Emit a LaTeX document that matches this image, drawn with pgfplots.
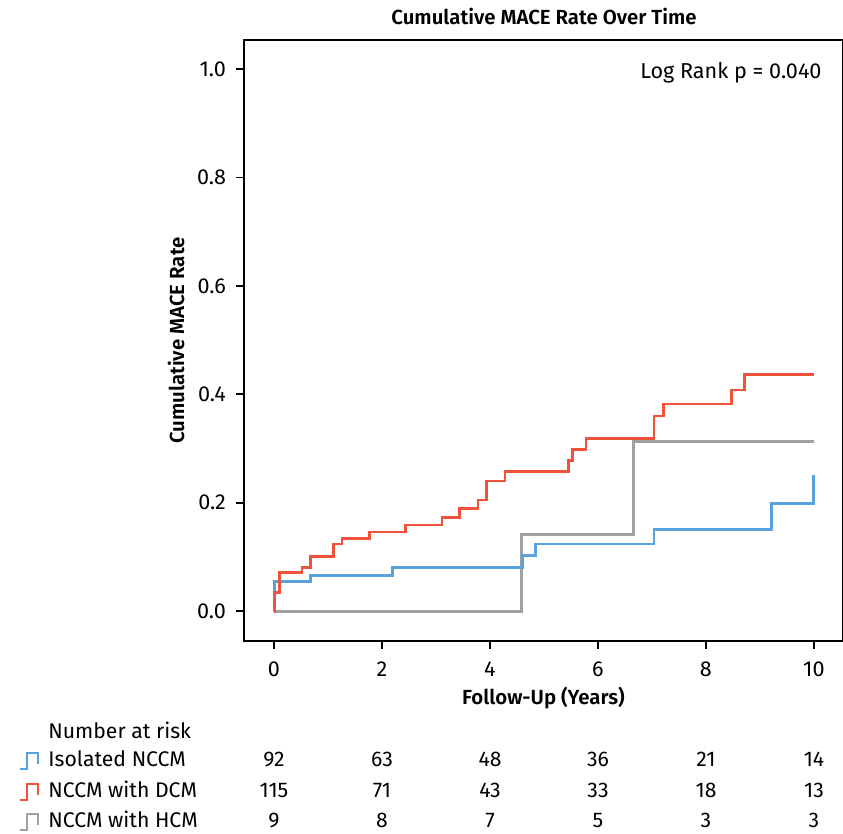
\documentclass[border=0pt]{standalone}
\usepackage{pgfplots}
\pgfplotsset{compat=1.18}
\usepackage{fontspec}
\setmainfont{Fira Sans}
\newfontfamily\semib{Fira Sans SemiBold}
\definecolor{kmred}{RGB}{240,83,60}
\definecolor{kmblue}{RGB}{90,162,222}
\definecolor{kmgray}{RGB}{160,160,160}
\begin{document}
\begin{tikzpicture}
\useasboundingbox (0,0) rectangle (421.5pt,417pt);
\begin{axis}[
  at={(122pt,96.5pt)}, anchor=south west,
  scale only axis, width=299.5pt, height=300.5pt,
  xmin=-0.556, xmax=10.54, ymin=-0.055, ymax=1.0535,
  xtick={0,2,4,6,8,10}, ytick={0,0.2,0.4,0.6,0.8,1.0},
  yticklabel style={xshift=-1.5pt,/pgf/number format/.cd,fixed,fixed zerofill,precision=1},
  /pgf/number format/assume math mode=true,
  tick align=outside, tick pos=left, major tick length=4pt,
  axis line style={line width=0.9pt},
  every tick/.style={line width=0.9pt, black},
  ticklabel style={font=\fontsize{10.8}{12}\selectfont},
  xticklabel style={yshift=-3pt},
  clip=false,
  xlabel={\semib Follow-Up (Years)},
  xlabel style={font=\fontsize{10.2}{12}\selectfont, at={(axis description cs:0.5,-0.095)}, anchor=center},
  ylabel={\semib Cumulative MACE Rate},
  ylabel style={font=\fontsize{10.2}{12}\selectfont, at={(axis description cs:-0.1135,0.5)}, anchor=center},
  every axis plot/.append style={line width=1.4pt},
]
% NCCM with HCM
\addplot[const plot, kmgray] coordinates {
 (0,0) (4.58,0.142) (6.66,0.313) (10,0.313)};
% Isolated NCCM
\addplot[const plot, kmblue] coordinates {
 (0,0) (0.01,0.054) (0.67,0.066) (2.19,0.081) (4.60,0.102) (4.85,0.124)
 (7.04,0.151) (9.22,0.199) (10,0.199) (10,0.251)};
% NCCM with DCM
\addplot[const plot, kmred] coordinates {
 (0,0) (0.01,0.034) (0.10,0.071) (0.52,0.080) (0.67,0.101) (1.10,0.124)
 (1.26,0.134) (1.77,0.146) (2.43,0.159) (3.11,0.173) (3.44,0.189)
 (3.78,0.205) (3.94,0.240) (4.28,0.258) (5.45,0.278) (5.53,0.298)
 (5.78,0.319) (7.04,0.360) (7.21,0.382) (8.47,0.408) (8.71,0.436) (10,0.436)};
\node[anchor=east, inner sep=0pt, font=\fontsize{10.8}{12}\selectfont] at (axis cs:10.15,0.994) {Log Rank p = 0.040};
\end{axis}
\begin{scope}[x=0.5pt,y=0.5pt]
\tikzset{lab/.style={anchor=mid west, font=\fontsize{10.6}{12}\selectfont, inner sep=0pt},
         num/.style={anchor=mid, font=\fontsize{10.6}{12}\selectfont, inner sep=0pt}}
\node[anchor=center, inner sep=0pt, font=\fontsize{10.2}{12}\selectfont\semib] at (544,818) {Cumulative MACE Rate Over Time};
\node[lab] at (48,101) {Number at risk};
\node[lab] at (48,73) {Isolated NCCM};
\node[lab] at (48,42) {NCCM with DCM};
\node[lab] at (48,12) {NCCM with HCM};
\draw[kmblue, line width=1pt] (20,65)--(27,65)--(27,81)--(38,81)--(38,70);
\draw[kmred, line width=1pt] (20,34)--(27,34)--(27,50)--(38,50)--(38,39);
\draw[kmgray, line width=1pt] (20,4)--(27,4)--(27,20)--(38,20)--(38,9);
\foreach \a/\b/\c [count=\i from 0] in {92/115/9, 63/71/8, 48/43/7, 36/33/5, 21/18/3, 14/13/3}{
  \pgfmathsetmacro{\xx}{274+108*\i}
  \node[num] at (\xx,73) {\a};
  \node[num] at (\xx,42) {\b};
  \node[num] at (\xx,12) {\c};
}
\end{scope}
\end{tikzpicture}
\end{document}
